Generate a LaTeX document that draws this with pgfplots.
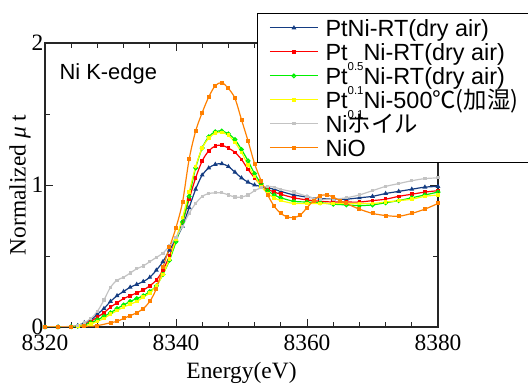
\documentclass[border=0pt]{standalone}
\usepackage{pgfplots}
\pgfplotsset{compat=1.18}
\usepackage{fontspec}
\setmainfont{Liberation Serif}
\newfontfamily\arial{Liberation Sans}
\newfontfamily\cjk{Noto Sans CJK JP}
\definecolor{cblue}{RGB}{20,60,130}
\definecolor{cred}{RGB}{255,0,0}
\definecolor{cgreen}{RGB}{0,240,0}
\definecolor{cyellow}{RGB}{255,255,0}
\definecolor{cgray}{RGB}{195,195,195}
\definecolor{corange}{RGB}{255,128,0}
\newcommand{\sub}[1]{\raisebox{-10bp}[0pt][0pt]{\fontsize{11.5}{11.5}\selectfont #1}}
\newcommand{\ls}{\rule[-3bp]{0pt}{24bp}}
\begin{document}
\begin{tikzpicture}
\begin{axis}[
  at={(0,0)}, anchor=south west,
  scale only axis, width=393bp, height=284bp,
  xmin=8320, xmax=8380, ymin=0, ymax=2,
  xtick={8320,8340,8360,8380}, ytick={0,1,2},
  minor x tick num=4, minor y tick num=1,
  tick align=inside, major tick length=8bp, minor tick length=5bp,
  axis line style={line width=1.1bp, black!85},
  every tick/.style={black!85, line width=0.9bp},
  tick label style={font=\fontsize{23.5}{24}\selectfont},
  /pgf/number format/assume math mode=true,
  /pgf/number format/set thousands separator={},
  xticklabel style={inner sep=1bp, yshift=-7bp},
  yticklabel style={inner sep=1.5bp},
  xlabel={Energy(eV)}, ylabel={Normalized \textit{μ} t},
  label style={font=\fontsize{23.5}{24}\selectfont},
  xlabel style={at={(axis description cs:0.5,-0.1796)}, anchor=base},
  ylabel style={at={(axis description cs:-0.0636,0.5)}, anchor=center},
  legend cell align=left,
  legend style={at={(rel axis cs:0.539,1.106)}, anchor=north west,
    draw=black, line width=1bp, inner xsep=12bp, inner ysep=2.5bp,
    font=\arial\fontsize{23.5}{24}\selectfont, row sep=0pt, column sep=7bp,
    nodes={inner sep=0pt, text height=21bp, text depth=3bp}},
  legend image code/.code={\draw[mark repeat=2,mark phase=2,#1] plot coordinates {(0bp,0bp) (24bp,0bp) (48bp,0bp)};},
]
\addplot[color=cblue, line width=1.2bp, mark=triangle*, mark size=1.6bp, smooth] coordinates {
(8320,0) (8322,0) (8324,0.003) (8325,0.01) (8326,0.03) (8327,0.05) (8328,0.09) (8329,0.13) (8330,0.18) (8331,0.22) (8332,0.25) (8333,0.28) (8334,0.30) (8335,0.32) (8336,0.35) (8337,0.40) (8338,0.46) (8339,0.54) (8340,0.62) (8341,0.71) (8342,0.84) (8343,0.97) (8344,1.07) (8345,1.12) (8346,1.145) (8347,1.15) (8348,1.13) (8349,1.09) (8350,1.05) (8351,1.02) (8352,1.00) (8353,0.99) (8354,0.98) (8355,0.97) (8356,0.955) (8358,0.93) (8360,0.915) (8362,0.905) (8364,0.90) (8366,0.90) (8368,0.91) (8370,0.92) (8372,0.94) (8374,0.955) (8376,0.97) (8378,0.985) (8380,0.99)};
\addlegendentry{\ls PtNi-RT(dry air)}
\addplot[color=cred, line width=1.2bp, mark=square*, mark size=1.2bp, smooth] coordinates {
(8320,0) (8322,0) (8324,0.002) (8325,0.01) (8326,0.02) (8327,0.04) (8328,0.07) (8329,0.10) (8330,0.14) (8331,0.17) (8332,0.20) (8333,0.22) (8334,0.24) (8335,0.26) (8336,0.29) (8337,0.33) (8338,0.40) (8339,0.50) (8340,0.62) (8341,0.74) (8342,0.90) (8343,1.05) (8344,1.17) (8345,1.24) (8346,1.275) (8347,1.28) (8348,1.26) (8349,1.23) (8350,1.18) (8351,1.11) (8352,1.05) (8353,1.00) (8354,0.97) (8355,0.95) (8356,0.935) (8358,0.91) (8360,0.895) (8362,0.885) (8364,0.88) (8366,0.88) (8368,0.88) (8370,0.89) (8372,0.90) (8374,0.92) (8376,0.935) (8378,0.95) (8380,0.96)};
\addlegendentry{\ls Pt\sub{0.5}Ni-RT(dry air)}
\addplot[color=cgreen, line width=1.2bp, mark=o, mark size=1.8bp, mark options={fill=white}, smooth] coordinates {
(8320,0) (8322,0) (8324,0.002) (8325,0.005) (8326,0.015) (8327,0.03) (8328,0.05) (8329,0.075) (8330,0.10) (8331,0.13) (8332,0.155) (8333,0.18) (8334,0.20) (8335,0.22) (8336,0.25) (8337,0.29) (8338,0.37) (8339,0.47) (8340,0.60) (8341,0.74) (8342,0.92) (8343,1.12) (8344,1.26) (8345,1.34) (8346,1.375) (8347,1.38) (8348,1.36) (8349,1.32) (8350,1.25) (8351,1.17) (8352,1.08) (8353,1.01) (8354,0.96) (8355,0.93) (8356,0.91) (8358,0.885) (8360,0.88) (8362,0.875) (8364,0.865) (8366,0.86) (8368,0.855) (8370,0.86) (8372,0.875) (8374,0.89) (8376,0.91) (8378,0.93) (8380,0.95)};
\addlegendentry{\ls Pt\sub{0.1}Ni-RT(dry air)}
\addplot[color=cyellow, line width=1.2bp, mark=square*, mark size=1.2bp, smooth] coordinates {
(8320,0) (8322,0) (8324,0.001) (8325,0.005) (8326,0.01) (8327,0.02) (8328,0.04) (8329,0.06) (8330,0.09) (8331,0.115) (8332,0.14) (8333,0.16) (8334,0.18) (8335,0.21) (8336,0.24) (8337,0.29) (8338,0.37) (8339,0.48) (8340,0.62) (8341,0.77) (8342,0.95) (8343,1.13) (8344,1.26) (8345,1.33) (8346,1.365) (8347,1.37) (8348,1.35) (8349,1.30) (8350,1.23) (8351,1.14) (8352,1.06) (8353,0.99) (8354,0.94) (8355,0.91) (8356,0.89) (8358,0.87) (8360,0.87) (8362,0.87) (8364,0.87) (8366,0.87) (8368,0.87) (8370,0.87) (8372,0.88) (8374,0.89) (8376,0.90) (8378,0.92) (8380,0.93)};
\addlegendentry{\ls Pt\sub{0.1}Ni-500{\cjk ℃(加湿)}}
\addplot[color=cgray, line width=1.2bp, mark=square*, mark size=1bp, smooth] coordinates {
(8320,0) (8322,0) (8324,0.005) (8325,0.01) (8326,0.03) (8327,0.06) (8328,0.11) (8329,0.19) (8330,0.28) (8331,0.33) (8332,0.35) (8333,0.38) (8334,0.41) (8335,0.43) (8336,0.46) (8337,0.49) (8338,0.52) (8339,0.57) (8340,0.63) (8341,0.71) (8342,0.80) (8343,0.87) (8344,0.92) (8345,0.94) (8346,0.945) (8347,0.945) (8348,0.93) (8349,0.915) (8350,0.915) (8351,0.93) (8352,0.96) (8353,0.98) (8354,0.99) (8355,0.985) (8356,0.97) (8358,0.95) (8360,0.92) (8362,0.90) (8364,0.90) (8366,0.91) (8368,0.93) (8370,0.96) (8372,0.99) (8374,1.01) (8376,1.03) (8378,1.045) (8380,1.05)};
\addlegendentry{\ls Ni{\cjk ホイル}}
\addplot[color=corange, line width=1.2bp, mark=square*, mark size=1.4bp, smooth] coordinates {
(8320,0) (8322,0) (8324,0) (8326,0.005) (8328,0.01) (8330,0.03) (8331,0.04) (8332,0.06) (8333,0.08) (8334,0.10) (8335,0.13) (8336,0.18) (8337,0.27) (8338,0.42) (8339,0.56) (8340,0.70) (8341,0.88) (8342,1.18) (8343,1.38) (8344,1.51) (8345,1.62) (8346,1.70) (8347,1.72) (8348,1.68) (8349,1.61) (8350,1.46) (8351,1.31) (8352,1.15) (8353,1.03) (8354,0.93) (8355,0.85) (8356,0.80) (8357,0.775) (8358,0.77) (8359,0.79) (8360,0.84) (8361,0.89) (8362,0.925) (8363,0.93) (8364,0.915) (8365,0.89) (8366,0.87) (8368,0.83) (8370,0.80) (8372,0.785) (8374,0.78) (8376,0.80) (8378,0.83) (8380,0.87)};
\addlegendentry{\ls NiO}
\node[anchor=base west, font=\arial\fontsize{22}{22}\selectfont] at (rel axis cs:0.028,0.870) {Ni K-edge};
\end{axis}
\pgfresetboundingbox
\path[use as bounding box] (-45bp,-58bp) rectangle (483bp,327bp);
\end{tikzpicture}
\end{document}
